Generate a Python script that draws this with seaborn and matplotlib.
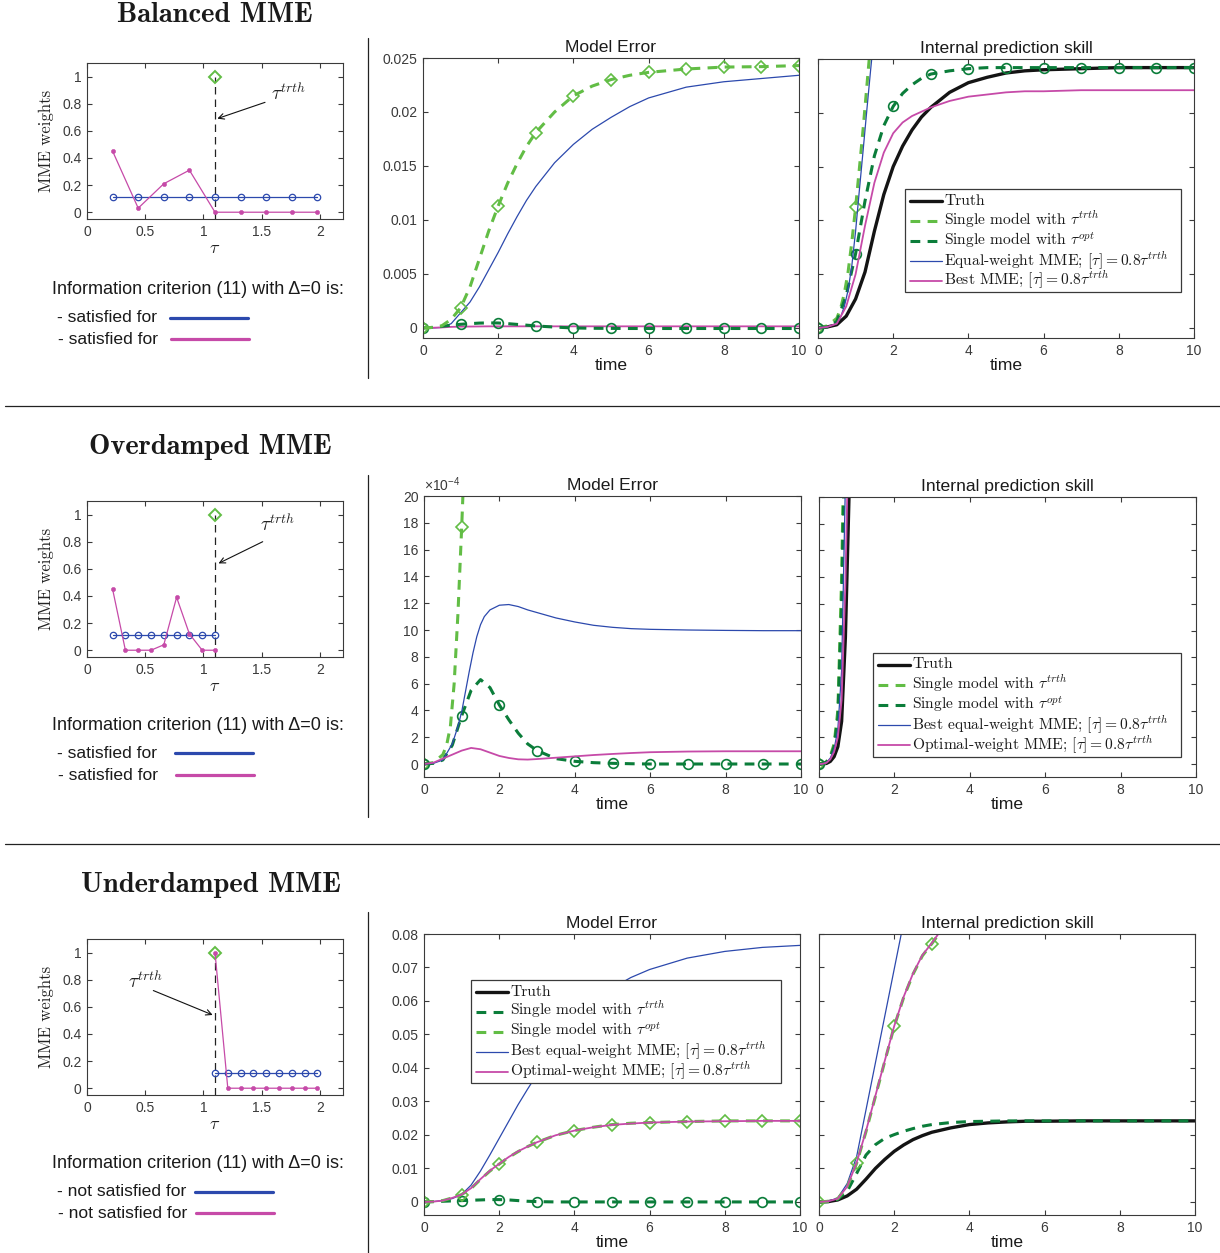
import numpy as np
import matplotlib
matplotlib.use("Agg")
import matplotlib.pyplot as plt
from matplotlib.lines import Line2D
from matplotlib.patches import Rectangle
from matplotlib.ticker import FuncFormatter
import seaborn as sns

# ------------------------------------------------------------------ data
# MME weights versus damping time tau
TAU_TRTH = 1.1
W_TRTH = 1.0

bal_tau = [0.22, 0.44, 0.66, 0.88, 1.10, 1.32, 1.54, 1.76, 1.98]
bal_w_equal = [0.111, 0.111, 0.111, 0.111, 0.111, 0.111, 0.111, 0.111, 0.111]
bal_w_best = [0.45, 0.03, 0.21, 0.31, 0.0, 0.0, 0.0, 0.0, 0.0]

over_tau = [0.22, 0.33, 0.44, 0.55, 0.66, 0.77, 0.88, 0.99, 1.10]
over_w_equal = [0.111, 0.111, 0.111, 0.111, 0.111, 0.111, 0.111, 0.111, 0.111]
over_w_best = [0.45, 0.0, 0.0, 0.0, 0.04, 0.39, 0.12, 0.0, 0.0]

under_tau = [1.10, 1.21, 1.32, 1.43, 1.54, 1.65, 1.76, 1.87, 1.98]
under_w_equal = [0.111, 0.111, 0.111, 0.111, 0.111, 0.111, 0.111, 0.111, 0.111]
under_w_best = [1.0, 0.0, 0.0, 0.0, 0.0, 0.0, 0.0, 0.0, 0.0]

# common time grid
t_main = [0, 0.25, 0.5, 0.75, 1, 1.25, 1.5, 1.75, 2, 2.25, 2.5, 2.75, 3,
          3.5, 4, 4.5, 5, 5.5, 6, 7, 8, 9, 10]

# ---- Balanced MME
bal_err_single_trth = [0, 0.00005, 0.0002, 0.0008, 0.00186, 0.0038, 0.0064, 0.0090, 0.0113,
                       0.0134, 0.0152, 0.0168, 0.0181, 0.0200, 0.0215, 0.0224, 0.0230, 0.0234,
                       0.02367, 0.02398, 0.02416, 0.0242, 0.0243]
bal_err_single_opt = [0, 0.00005, 0.00015, 0.00025, 0.00034, 0.0004, 0.00045, 0.00047, 0.00046,
                      0.0004, 0.00033, 0.00026, 0.00019, 0.00008, 0.0, -0.00003, -0.00004,
                      -0.00005, -0.00005, -0.00005, -0.00005, -0.00005, -0.00005]
bal_err_equal = [0, 0.0, 0.00005, 0.0004, 0.0014, 0.0024, 0.0038, 0.0054, 0.0070,
                 0.0087, 0.0103, 0.0118, 0.0131, 0.0153, 0.0170, 0.0184, 0.0195, 0.0205,
                 0.0213, 0.0223, 0.0228, 0.0231, 0.0234]
bal_err_best = [0, 0.00002, 0.00005, 0.0001, 0.00012, 0.00013, 0.00014, 0.00015, 0.00015,
                0.00015, 0.00015, 0.00015, 0.00015, 0.00015, 0.00015, 0.00015, 0.00015,
                0.00015, 0.00015, 0.00015, 0.00015, 0.00015, 0.00015]

bal_skill_truth = [0, 0.0001, 0.0003, 0.0011, 0.0027, 0.0052, 0.0090, 0.0124, 0.0150,
                   0.0169, 0.0184, 0.0196, 0.0205, 0.0219, 0.0228, 0.0233, 0.0237, 0.0239,
                   0.0240, 0.0241, 0.0242, 0.0242, 0.0242]
bal_skill_single_opt = [0, 0.0001, 0.0006, 0.0030, 0.0069, 0.0118, 0.0160, 0.0188, 0.0206,
                        0.0218, 0.0226, 0.0232, 0.0236, 0.0239, 0.0241, 0.0242, 0.0242, 0.0242,
                        0.0242, 0.0242, 0.0242, 0.0242, 0.0242]
bal_skill_best = [0, 0.0001, 0.0004, 0.0020, 0.0050, 0.0095, 0.0135, 0.0163, 0.0181,
                  0.0191, 0.0197, 0.0201, 0.0205, 0.0211, 0.0215, 0.0217, 0.0219, 0.0220,
                  0.0220, 0.0221, 0.0221, 0.0221, 0.0221]
bal_t_fast = [0, 0.25, 0.5, 0.6, 0.7, 0.8, 0.9, 1.0, 1.1, 1.2, 1.3, 1.4, 1.5]
bal_skill_single_trth = [0, 0.0002, 0.0009, 0.0018, 0.0032, 0.0052, 0.0080, 0.0112, 0.0148,
                         0.0185, 0.0225, 0.0265, 0.0305]
bal_skill_equal = [0, 0.0001, 0.0004, 0.0010, 0.0020, 0.0035, 0.0058, 0.0090, 0.0128,
                   0.0165, 0.0203, 0.0240, 0.0275]

# ---- Overdamped MME (values in units of 1e-4)
over_t_err_fast = [0, 0.25, 0.5, 0.6, 0.7, 0.8, 0.9, 1.0, 1.1]
over_err_single_trth = [0, 0.1, 0.7, 1.4, 2.8, 6.0, 11.2, 17.7, 25.0]
over_err_single_opt = [0, 0.05, 0.3, 1.4, 3.6, 5.5, 6.3, 5.7, 4.4, 3.3, 2.3, 1.5, 1.0,
                       0.4, 0.2, 0.1, 0.05, 0.02, 0, 0, 0, 0, 0]
over_err_optimal = [0, 0.1, 0.4, 0.7, 1.0, 1.2, 1.1, 0.85, 0.6, 0.45, 0.35, 0.33, 0.37,
                    0.47, 0.57, 0.67, 0.75, 0.82, 0.88, 0.93, 0.95, 0.95, 0.95]
over_t_equal = [0, 0.25, 0.5, 0.75, 0.9, 1.0, 1.1, 1.2, 1.3, 1.4, 1.5, 1.6, 1.75, 2,
                2.25, 2.5, 2.75, 3, 3.5, 4, 4.5, 5, 5.5, 6, 7, 8, 9, 10]
over_err_equal = [0, 0.05, 0.3, 1.5, 2.8, 3.9, 5.4, 6.9, 8.3, 9.5, 10.4, 11.0, 11.5, 11.85,
                  11.9, 11.75, 11.5, 11.3, 10.9, 10.6, 10.35, 10.2, 10.1, 10.05, 10.0, 9.97,
                  9.95, 9.95]

over_t_skill = [0, 0.1, 0.2, 0.3, 0.4, 0.5, 0.6, 0.7, 0.8, 0.9]
over_skill_truth = [0, 0.01, 0.05, 0.2, 0.55, 1.3, 3.2, 9.5, 20.5, 33.0]
over_skill_single_trth = [0, 0.03, 0.18, 0.6, 1.5, 4.0, 14.0, 30.0, 45.0, 60.0]
over_skill_single_opt = [0, 0.03, 0.15, 0.5, 1.3, 3.5, 12.0, 27.0, 42.0, 57.0]
over_skill_equal = [0, 0.02, 0.12, 0.45, 1.1, 2.6, 7.0, 21.0, 35.0, 50.0]
over_skill_optimal = [0, 0.02, 0.1, 0.35, 0.9, 2.0, 4.8, 13.5, 27.0, 40.0]

# ---- Underdamped MME
under_err_single_trth = [0, 0.0001, 0.0002, 0.0003, 0.0004, 0.0005, 0.0006, 0.0007, 0.0007,
                         0.0006, 0.0004, 0.0002, 0.0001, 0, 0, 0, 0, 0, 0, 0, 0, 0, 0]
under_err_single_opt = [0, 0.0001, 0.0004, 0.0012, 0.0022, 0.0040, 0.0067, 0.0092, 0.0113,
                        0.0133, 0.0150, 0.0165, 0.0178, 0.0199, 0.0213, 0.0223, 0.0231, 0.0235,
                        0.0237, 0.0240, 0.0242, 0.0242, 0.0242]
under_err_optimal = [0, 0.0001, 0.0004, 0.0012, 0.0022, 0.0041, 0.0068, 0.0093, 0.0114,
                     0.0134, 0.0151, 0.0165, 0.0178, 0.0199, 0.0213, 0.0223, 0.0230, 0.0234,
                     0.0237, 0.0240, 0.0241, 0.0242, 0.0242]
under_err_equal = [0, 0.0001, 0.0004, 0.0010, 0.0022, 0.0050, 0.0092, 0.0140, 0.0190,
                   0.0240, 0.0290, 0.0336, 0.0380, 0.0465, 0.0535, 0.0592, 0.0638, 0.0670,
                   0.0694, 0.0728, 0.0748, 0.0760, 0.0766]

under_skill_truth = [0, 0.0001, 0.0006, 0.0018, 0.0038, 0.0068, 0.0100, 0.0127, 0.0151,
                     0.0170, 0.0186, 0.0198, 0.0208, 0.0221, 0.0231, 0.0236, 0.0239, 0.0241,
                     0.0241, 0.0242, 0.0242, 0.0242, 0.0242]
under_skill_single_trth = [0, 0.0001, 0.0008, 0.0032, 0.0085, 0.0140, 0.0171, 0.0190, 0.0201,
                           0.0211, 0.0219, 0.0226, 0.0231, 0.0237, 0.0240, 0.0241, 0.0242,
                           0.0242, 0.0242, 0.0242, 0.0242, 0.0242, 0.0242]
under_t_fast = [0, 0.25, 0.5, 0.75, 1, 1.25, 1.5, 1.75, 2, 2.25, 2.5, 2.75, 3, 3.25, 3.5]
under_skill_single_opt = [0, 0.0002, 0.0010, 0.0045, 0.0115, 0.0210, 0.0315, 0.0420, 0.0524,
                          0.0610, 0.0680, 0.0735, 0.0771, 0.0810, 0.0850]
under_skill_optimal = [0, 0.0002, 0.0010, 0.0046, 0.0117, 0.0212, 0.0317, 0.0422, 0.0525,
                       0.0612, 0.0682, 0.0737, 0.0773, 0.0812, 0.0852]
under_t_equal = [0, 0.25, 0.5, 0.75, 1, 1.25, 1.5, 1.75, 2, 2.25]
under_skill_equal = [0, 0.0002, 0.0012, 0.0055, 0.0135, 0.0275, 0.0415, 0.0555, 0.0695, 0.0835]

# ------------------------------------------------------------------ style
sns.set_theme(style="ticks")
plt.rcParams["font.family"] = ["Liberation Sans", "DejaVu Sans"]
plt.rcParams["mathtext.fontset"] = "cm"
plt.rcParams["axes.unicode_minus"] = False

C_TRUTH = "#141414"
C_LIGHT = "#62bd45"
C_DARK = "#0b7d3a"
C_BLUE = "#2c49ad"
C_PINK = "#c64aa8"
C_AX = "#3a3a3a"
C_TXT = "#1a1a1a"
DASH = (0, (3.2, 2.4))

STYLES = {
    "truth": dict(color=C_TRUTH, lw=2.4, ls="-"),
    "light": dict(color=C_LIGHT, lw=2.2, ls=DASH, marker="D", ms=6.3),
    "dark": dict(color=C_DARK, lw=2.2, ls=DASH, marker="o", ms=7.0),
    "blue": dict(color=C_BLUE, lw=0.9, ls="-"),
    "pink": dict(color=C_PINK, lw=1.3, ls="-"),
}

W, H = 1220, 1253
fig = plt.figure(figsize=(W / 100, H / 100), dpi=100)


def fx(x):
    return x / W


def fy(y):
    return 1 - y / H


def add_axes_px(x0, y0, x1, y1):
    return fig.add_axes([fx(x0), fy(y1), (x1 - x0) / W, (y1 - y0) / H])


def int_idx(t):
    t = np.asarray(t, dtype=float)
    return list(np.flatnonzero(np.isclose(t, np.round(t))))


def draw_curve(ax, t, v, kind, marks=True):
    st = STYLES[kind]
    kw = dict(color=st["color"], linewidth=st["lw"], linestyle=st["ls"])
    if marks and "marker" in st:
        kw.update(marker=st["marker"], markevery=int_idx(t), markersize=st["ms"],
                  mfc="none", mec=st["color"], mew=1.2)
    sns.lineplot(x=t, y=v, ax=ax, errorbar=None, estimator=None, sort=False,
                 legend=False, **kw)


def gfmt(v, p):
    return f"{v:g}"


def style_axes(ax, xlim, ylim, xticks, yticks, ylabels=True):
    ax.set_xlim(*xlim)
    ax.set_ylim(*ylim)
    ax.set_xticks(xticks)
    ax.set_yticks(yticks)
    ax.xaxis.set_major_formatter(FuncFormatter(gfmt))
    ax.yaxis.set_major_formatter(FuncFormatter(gfmt))
    ax.tick_params(direction="in", top=True, right=True, length=3.5, width=0.8,
                   color=C_AX, labelcolor=C_AX, labelsize=10, pad=4,
                   labelleft=ylabels)
    for s in ax.spines.values():
        s.set_color(C_AX)
        s.set_linewidth(0.8)
    ax.set_xlabel("")
    ax.set_ylabel("")


def weights_panel(y_top, tau, w_eq, w_best, text_xy, tail, head):
    ax = add_axes_px(87, y_top, 343, y_top + 156)
    ax.vlines(TAU_TRTH, -0.05, W_TRTH, colors="#222222", linewidth=0.9,
              linestyles=(0, (6, 4)), zorder=1)
    sns.lineplot(x=[TAU_TRTH], y=[W_TRTH], ax=ax, marker="D", markersize=6,
                 mfc="none", mec=C_LIGHT, mew=1.4, color=C_LIGHT,
                 errorbar=None, estimator=None, legend=False)
    sns.lineplot(x=tau, y=w_eq, ax=ax, color=C_BLUE, linewidth=0.9, marker="o",
                 markersize=4.6, mfc="none", mec=C_BLUE, mew=0.9,
                 errorbar=None, estimator=None, sort=False, legend=False)
    sns.lineplot(x=tau, y=w_best, ax=ax, color=C_PINK, linewidth=0.9, marker="o",
                 markersize=3.0, mfc=C_PINK, mec=C_PINK, mew=0.4,
                 errorbar=None, estimator=None, sort=False, legend=False)
    style_axes(ax, (0, 2.2), (-0.05, 1.1), [0, 0.5, 1, 1.5, 2],
               [0, 0.2, 0.4, 0.6, 0.8, 1.0])
    ax.set_ylabel("MME weights", family="cmr10", fontsize=12, color="#222222",
                  labelpad=6)
    ax.set_xlabel(r"$\tau$", fontsize=13, color="#222222", labelpad=1)
    ax.annotate("", xy=head, xytext=tail,
                arrowprops=dict(arrowstyle="->", lw=0.8, color="#111111",
                                mutation_scale=10, shrinkA=0, shrinkB=0))
    ax.text(*text_xy, r"$\tau^{trth}$", fontsize=14, ha="center", va="center",
            color="#222222")
    return ax


def info_block(y_head, y1, y2, prefix, lx0, lx1):
    fig.text(fx(52), fy(y_head), "Information criterion (11) with \u0394=0 is:",
             fontsize=13.0, color=C_TXT, ha="left", va="center")
    fig.text(fx(57), fy(y1), prefix, fontsize=12.6, color=C_TXT,
             ha="left", va="center")
    fig.text(fx(58), fy(y2), prefix, fontsize=12.6, color=C_TXT,
             ha="left", va="center")
    fig.add_artist(Line2D([fx(lx0), fx(lx1)], [fy(y1), fy(y1)], color=C_BLUE,
                          lw=2.3, transform=fig.transFigure))
    fig.add_artist(Line2D([fx(lx0 + 1), fx(lx1 + 1)], [fy(y2), fy(y2)],
                          color=C_PINK, lw=2.3, transform=fig.transFigure))


def finish_series(ax, ylim, yticks, title, ylabels):
    style_axes(ax, (0, 10), ylim, [0, 2, 4, 6, 8, 10], yticks, ylabels)
    ax.set_title(title, fontsize=12.6, color=C_TXT, pad=4)
    ax.set_xlabel("time", fontsize=12.6, color=C_TXT, labelpad=0)


def legend_box(box, entries, row0=12.5, step=19.8, fs=11.2):
    """Framed key: one line sample and one label per row."""
    x0, y0, x1, y1 = box
    fig.add_artist(Rectangle((fx(x0), fy(y1)), (x1 - x0) / W, (y1 - y0) / H,
                             transform=fig.transFigure, facecolor="white",
                             edgecolor=C_AX, linewidth=0.9, zorder=5))
    for i, (kind, label) in enumerate(entries):
        y = y0 + row0 + step * i
        st = STYLES[kind]
        fig.add_artist(Line2D([fx(x0 + 5), fx(x0 + 37)], [fy(y), fy(y)],
                              color=st["color"], lw=st["lw"], linestyle=st["ls"],
                              transform=fig.transFigure, zorder=6))
        fig.text(fx(x0 + 39), fy(y + 4), label, family="cmr10", fontsize=fs,
                 ha="left", va="baseline", color=C_TXT, zorder=7)


LBL_TRTH = r"Single model with $\tau^{trth}$"
LBL_OPT = r"Single model with $\tau^{opt}$"
TAIL = r" MME; $[\tau] = 0.8\tau^{trth}$"
TITLE_KW = dict(family="cmb10", fontsize=20.5, ha="center", va="center", color=C_TXT)

# ------------------------------------------------------------------ Balanced
fig.text(fx(215), fy(15), "Balanced MME", **TITLE_KW)
weights_panel(63, bal_tau, bal_w_equal, bal_w_best,
              (1.73, 0.88), (1.53, 0.81), (1.12, 0.69))
info_block(289, 318, 339, "- satisfied for", 170, 248)

ax = add_axes_px(423, 58, 799, 338)
draw_curve(ax, t_main, bal_err_equal, "blue")
draw_curve(ax, t_main, bal_err_best, "pink")
draw_curve(ax, t_main, bal_err_single_opt, "dark")
draw_curve(ax, t_main, bal_err_single_trth, "light")
finish_series(ax, (-0.00093, 0.025), [0, 0.005, 0.01, 0.015, 0.02, 0.025],
              "Model Error", True)

ax = add_axes_px(818, 59, 1194, 338)
draw_curve(ax, t_main, bal_skill_truth, "truth")
draw_curve(ax, bal_t_fast, bal_skill_single_trth, "light")
draw_curve(ax, t_main, bal_skill_single_opt, "dark")
draw_curve(ax, bal_t_fast, bal_skill_equal, "blue")
draw_curve(ax, t_main, bal_skill_best, "pink")
finish_series(ax, (-0.00093, 0.025), [0, 0.005, 0.01, 0.015, 0.02, 0.025],
              "Internal prediction skill", False)
legend_box((905, 189, 1181, 292),
           [("truth", "Truth"), ("light", LBL_TRTH), ("dark", LBL_OPT),
            ("blue", "Equal-weight" + TAIL), ("pink", "Best" + TAIL)],
           row0=12, step=19.9)

# ------------------------------------------------------------------ Overdamped
fig.text(fx(210), fy(447), "Overdamped MME", **TITLE_KW)
weights_panel(501, over_tau, over_w_equal, over_w_best,
              (1.64, 0.93), (1.51, 0.80), (1.13, 0.64))
info_block(726, 753, 775, "- satisfied for", 175, 253)

ax = add_axes_px(424, 496, 801, 777)
draw_curve(ax, over_t_err_fast, over_err_single_trth, "light")
draw_curve(ax, t_main, over_err_single_opt, "dark")
draw_curve(ax, over_t_equal, over_err_equal, "blue")
draw_curve(ax, t_main, over_err_optimal, "pink")
finish_series(ax, (-0.97, 20), [0, 2, 4, 6, 8, 10, 12, 14, 16, 18, 20],
              "Model Error", True)
ax.text(0.0, 1.006, r"$\mathdefault{\times10^{-4}}$", transform=ax.transAxes,
        fontsize=10, color=C_AX, ha="left", va="bottom")

ax = add_axes_px(819, 497, 1196, 777)
draw_curve(ax, over_t_skill, over_skill_truth, "truth")
draw_curve(ax, over_t_skill, over_skill_single_trth, "light")
draw_curve(ax, over_t_skill, over_skill_single_opt, "dark")
draw_curve(ax, over_t_skill, over_skill_equal, "blue")
draw_curve(ax, over_t_skill, over_skill_optimal, "pink")
finish_series(ax, (-0.97, 20), [0, 2, 4, 6, 8, 10, 12, 14, 16, 18, 20],
              "Internal prediction skill", False)
legend_box((873, 653, 1181, 757),
           [("truth", "Truth"), ("light", LBL_TRTH), ("dark", LBL_OPT),
            ("blue", "Best equal-weight" + TAIL), ("pink", "Optimal-weight" + TAIL)],
           row0=11.5, step=20.2)

# ------------------------------------------------------------------ Underdamped
fig.text(fx(211), fy(885), "Underdamped MME", **TITLE_KW)
weights_panel(939, under_tau, under_w_equal, under_w_best,
              (0.50, 0.79), (0.57, 0.72), (1.08, 0.54))
info_block(1164, 1192, 1213, "- not satisfied for", 195, 273)

ax = add_axes_px(424, 934, 800, 1215)
draw_curve(ax, t_main, under_err_equal, "blue")
draw_curve(ax, t_main, under_err_single_trth, "dark")
draw_curve(ax, t_main, under_err_single_opt, "light")
draw_curve(ax, t_main, under_err_optimal, "pink")
finish_series(ax, (-0.0039, 0.08), [0, 0.01, 0.02, 0.03, 0.04, 0.05, 0.06, 0.07, 0.08],
              "Model Error", True)
legend_box((471, 980, 781, 1083),
           [("truth", "Truth"), ("dark", LBL_TRTH), ("light", LBL_OPT),
            ("blue", "Best equal-weight" + TAIL), ("pink", "Optimal-weight" + TAIL)],
           row0=11.5, step=20.0)

ax = add_axes_px(819, 934, 1195, 1215)
draw_curve(ax, t_main, under_skill_truth, "truth")
draw_curve(ax, t_main, under_skill_single_trth, "dark", marks=False)
draw_curve(ax, under_t_equal, under_skill_equal, "blue")
draw_curve(ax, under_t_fast, under_skill_single_opt, "light")
draw_curve(ax, under_t_fast, under_skill_optimal, "pink")
finish_series(ax, (-0.0039, 0.08), [0, 0.01, 0.02, 0.03, 0.04, 0.05, 0.06, 0.07, 0.08],
              "Internal prediction skill", False)

# ------------------------------------------------------------------ separators
for y0, y1 in [(38, 378), (475, 817), (912, 1253)]:
    fig.add_artist(Line2D([fx(368), fx(368)], [fy(y0), fy(y1)], color="#222222",
                          lw=0.9, transform=fig.transFigure))
for y in (406, 844):
    fig.add_artist(Line2D([fx(5), fx(1220)], [fy(y), fy(y)], color="#222222",
                          lw=0.9, transform=fig.transFigure))

fig.savefig("out.png", dpi=100, facecolor="white")
